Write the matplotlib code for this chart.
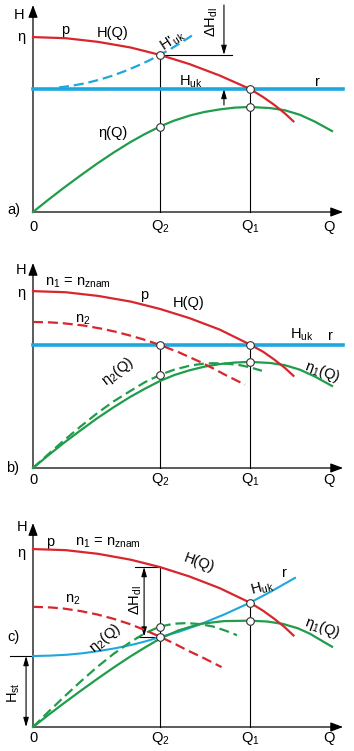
import matplotlib.pyplot as plt

plt.rcParams["font.family"] = ["Liberation Sans Narrow", "Liberation Sans", "DejaVu Sans"]
plt.rcParams["font.size"] = 10.5
plt.rcParams["mathtext.default"] = "regular"

RED = "#d8262d"
BLUE = "#1ea7df"
GREEN = "#1f9d4a"

# ---- panel a) ----
q_pump_a = [0, 15, 30, 45, 58.5, 72, 86, 100, 106, 111, 116, 120]
h_pump_a = [80.6, 80.1, 78.4, 75.8, 72.4, 68.2, 62.9, 56.7, 53.0, 49.5, 45.5, 41.8]
q_huk2_a = [12, 18, 24, 30, 36, 42, 48, 53, 58.5, 63, 68, 73.7]
h_huk2_a = [57.4, 58.2, 59.3, 60.8, 62.6, 64.8, 67.3, 69.6, 72.4, 74.9, 77.9, 81.6]
h_huk_a = 56.7
q_eta_a = [0, 7, 14, 22, 29.4, 37, 44.7, 51.5, 58.5, 65, 72.4, 79, 86.2, 93, 100,
           109.2, 116, 123, 130, 137.8]
h_eta_a = [0, 5.6, 11.0, 16.9, 22.2, 27.3, 32.1, 35.9, 39.4, 42.1, 44.5, 46.1, 47.3,
           48.1, 48.4, 47.9, 46.9, 44.8, 41.6, 37.3]

# ---- panel b) ----
q_pump_b = [0, 15, 30, 45, 58.5, 72, 86, 100, 106, 111, 116, 120]
h_pump_b = [81.5, 81.0, 79.3, 76.7, 73.3, 69.1, 63.8, 56.9, 53.6, 50.1, 46.2, 42.5]
q_n2_b = [0, 8, 14, 23, 31, 38, 46, 52, 58.5, 67, 77, 83, 89.4, 97.7]
h_n2_b = [67.3, 67.1, 66.7, 65.7, 64.3, 62.8, 60.7, 58.9, 56.7, 53.4, 48.9, 45.9, 42.5, 38.4]
h_huk_b = 56.7
q_eta1_b = [0, 7, 14, 22, 29.4, 37, 44.7, 51.5, 58.5, 65, 72.4, 79, 86.2, 93, 100,
            109.2, 116, 123, 130, 137.8]
h_eta1_b = [0, 5.8, 11.4, 17.4, 22.8, 27.9, 32.7, 36.5, 40.1, 42.8, 45.1, 46.7, 47.9,
            48.6, 48.9, 48.4, 47.4, 45.3, 42.1, 37.8]
q_eta2_b = [0, 7, 14, 22, 29.4, 37, 44.7, 51.5, 58.5, 65, 72.4, 78, 83, 89, 95.4, 100, 105.5]
h_eta2_b = [0, 6.3, 12.5, 19.2, 25.1, 30.6, 35.4, 39.5, 42.9, 45.3, 47.2, 48.0, 48.3,
            48.1, 47.4, 46.4, 44.8]

# ---- panel c) ----
q_pump_c = [0, 15, 30, 45, 58.5, 72, 86, 100, 106, 111, 116, 120]
h_pump_c = [82.0, 81.5, 79.8, 77.1, 73.7, 69.4, 64.0, 57.3, 53.6, 50.0, 46.0, 42.2]
q_n2_c = [0, 8, 14, 22, 29.4, 37, 44.7, 51.5, 58.5, 65, 71, 79, 86.9]
h_n2_c = [55.4, 55.1, 54.6, 53.4, 51.9, 49.9, 47.4, 44.7, 41.6, 38.5, 35.4, 31.6, 27.6]
q_r_c = [0, 8, 15.7, 23, 30.9, 38, 46.1, 52, 58.5, 67, 77, 88, 100, 110, 120.7]
h_r_c = [32.7, 32.9, 33.3, 34.0, 35.1, 36.3, 38.0, 39.5, 41.5, 43.8, 47.3, 51.8, 57.3,
         62.6, 68.7]
q_eta1_c = [0, 7, 14, 22, 29.4, 37, 44.7, 51.5, 58.5, 67, 77, 88, 100, 108, 115.2,
            122, 127.6, 133, 137.8]
h_eta1_c = [0, 5.5, 10.8, 16.7, 22.0, 27.3, 32.4, 36.6, 40.7, 44.5, 47.5, 48.8, 49.0,
            48.6, 47.5, 45.5, 43.0, 39.8, 37.0]
q_eta2_c = [0, 7, 14, 22, 29.4, 37, 44.7, 51.5, 58.5, 65, 71, 77, 83, 89, 94]
h_eta2_c = [0, 6.9, 13.6, 21.0, 27.5, 33.6, 39.0, 43.2, 46.3, 47.6, 47.9, 47.4, 46.3,
            44.3, 42.3]
h_st = 32.7

Q1, Q2 = 100, 58.5

# figure in pixels: 354 x 751, 2.17 px per unit on both axes
W, HT, S = 354, 751, 2.17
X0 = 33
fig = plt.figure(figsize=(W / 100, HT / 100), dpi=100)


def panel(top, bottom, y0):
    ax = fig.add_axes([0, 1 - bottom / HT, 1, (bottom - top) / HT])
    ax.set_xlim(-X0 / S, (W - X0) / S)
    ax.set_ylim((y0 - bottom) / S, (y0 - top) / S)
    ax.axis("off")
    return ax


def axes_arrows(ax, htip):
    ap = dict(arrowstyle="-|>,head_length=0.75,head_width=0.28", lw=0.9,
              color="black", shrinkA=0, shrinkB=0, mutation_scale=10)
    ax.annotate("", xy=(142.9, 0), xytext=(0, 0), arrowprops=ap)
    ax.annotate("", xy=(0, htip), xytext=(0, 0), arrowprops=ap)


def small_arrow(ax, x, y_from, y_to, style="-|>"):
    ax.annotate("", xy=(x, y_to), xytext=(x, y_from),
                arrowprops=dict(arrowstyle=style + ",head_length=0.55,head_width=0.16",
                                lw=0.8, color="black", shrinkA=0, shrinkB=0,
                                mutation_scale=10))


def bottom_labels(ax, y):
    ax.text(0, y, "0", ha="center", va="center")
    ax.text(Q2, y, "Q$_2$", ha="center", va="center")
    ax.text(Q1, y, "Q$_1$", ha="center", va="center")
    ax.text(136.4, y, "Q", ha="center", va="center")


def marks(ax, pts):
    ax.plot([p[0] for p in pts], [p[1] for p in pts], "o", ms=5.5, mfc="white",
            mec="#333333", mew=0.8, zorder=10, ls="none")


DASH = (0, (4.5, 2.2))

# ---------- a) ----------
ax = panel(0, 250, 212)
axes_arrows(ax, 95.4)
ax.plot([Q2, Q2], [0, 72.4], color="black", lw=0.8)
ax.plot([Q1, Q1], [0, h_huk_a], color="black", lw=0.8)
ax.plot([Q2, 91.7], [72.4, 72.4], color="black", lw=0.8)
small_arrow(ax, 88.0, 95.4, 72.4)
small_arrow(ax, 88.0, 49.3, h_huk_a)
ax.axhline(h_huk_a, xmin=X0 / W, xmax=343 / W, color=BLUE, lw=2.6, zorder=3)
ax.plot(q_huk2_a, h_huk2_a, color=BLUE, lw=1.6, ls=DASH, zorder=4)
ax.plot(q_eta_a, h_eta_a, color=GREEN, lw=1.6, zorder=4)
ax.plot(q_pump_a, h_pump_a, color=RED, lw=1.6, zorder=5)
marks(ax, [(Q2, 72.4), (Q1, h_huk_a), (Q1, 48.4), (Q2, 39.4)])
ax.text(-6.5, 90.8, "H", ha="center", va="center")
ax.text(-5.3, 80.6, "η", ha="center", va="center")
ax.text(-8.8, 0.9, "a)", ha="center", va="center")
bottom_labels(ax, -6.7)
ax.text(14.7, 83.9, "p", ha="center", va="center")
ax.text(36.9, 82.5, "H(Q)", ha="center", va="center")
ax.text(64.5, 78.8, "H'$_{uk}$", ha="center", va="center", rotation=33)
ax.text(72.8, 59.9, "H$_{uk}$", ha="center", va="center")
ax.text(131.3, 59.9, "r", ha="center", va="center")
ax.text(36.9, 36.4, "η(Q)", ha="center", va="center")
ax.text(82.5, 87.6, "ΔH$_{dl}$", ha="center", va="center", rotation=90)

# ---------- b) ----------
ax = panel(250, 500, 468)
axes_arrows(ax, 94.5)
ax.plot([Q2, Q2], [0, h_huk_b], color="black", lw=0.8)
ax.plot([Q1, Q1], [0, h_huk_b], color="black", lw=0.8)
ax.axhline(h_huk_b, xmin=X0 / W, xmax=343 / W, color=BLUE, lw=2.6, zorder=3)
ax.plot(q_eta1_b, h_eta1_b, color=GREEN, lw=1.6, zorder=4)
ax.plot(q_eta2_b, h_eta2_b, color=GREEN, lw=1.6, ls=DASH, zorder=4)
ax.plot(q_n2_b, h_n2_b, color=RED, lw=1.6, ls=DASH, zorder=5)
ax.plot(q_pump_b, h_pump_b, color=RED, lw=1.6, zorder=5)
marks(ax, [(Q2, h_huk_b), (Q1, h_huk_b), (Q2, 42.9), (Q1, 48.9)])
ax.text(-5.5, 91.2, "H", ha="center", va="center")
ax.text(-5.3, 80.6, "η", ha="center", va="center")
ax.text(-9.2, 0, "b)", ha="center", va="center")
bottom_labels(ax, -5.5)
ax.text(5.5, 85.3, "n$_1$ = n$_{znam}$", ha="left", va="center")
ax.text(51.2, 79.7, "p", ha="center", va="center")
ax.text(71.9, 76.0, "H(Q)", ha="center", va="center")
ax.text(23.0, 68.2, "n$_2$", ha="center", va="center")
ax.text(124.0, 61.3, "H$_{uk}$", ha="center", va="center")
ax.text(136.9, 60.8, "r", ha="center", va="center")
ax.text(39.2, 44.6, "η$_2$(Q)", ha="center", va="center", rotation=38)
ax.text(133.2, 44.2, "η$_1$(Q)", ha="center", va="center", rotation=-20)

# ---------- c) ----------
ax = panel(500, 751, 727)
axes_arrows(ax, 94.0)
ax.plot([Q2, Q2], [0, 73.7], color="black", lw=0.8)
ax.plot([Q1, Q1], [0, 57.3], color="black", lw=0.8)
ax.plot([47.0, Q2], [73.7, 73.7], color="black", lw=0.8)
ax.plot([47.5, Q2], [41.7, 41.7], color="black", lw=0.8)
small_arrow(ax, 51.2, 41.7, 73.7, style="<|-|>")
ax.plot([-10.6, 0], [h_st, h_st], color="black", lw=0.8)
small_arrow(ax, -3.2, 0, h_st, style="<|-|>")
ax.plot(q_r_c, h_r_c, color=BLUE, lw=1.5, zorder=3)
ax.plot(q_eta1_c, h_eta1_c, color=GREEN, lw=1.6, zorder=4)
ax.plot(q_eta2_c, h_eta2_c, color=GREEN, lw=1.6, ls=DASH, zorder=4)
ax.plot(q_n2_c, h_n2_c, color=RED, lw=1.6, ls=DASH, zorder=5)
ax.plot(q_pump_c, h_pump_c, color=RED, lw=1.6, zorder=5)
marks(ax, [(Q2, 46.3), (Q2, 41.5), (Q1, 57.3), (Q1, 49.0)])
ax.text(-5.1, 92.2, "H", ha="center", va="center")
ax.text(-5.3, 80.2, "η", ha="center", va="center")
ax.text(-9.2, 41.5, "c)", ha="center", va="center")
bottom_labels(ax, -5.1)
ax.text(7.8, 85.3, "p", ha="center", va="center")
ax.text(19.4, 84.8, "n$_1$ = n$_{znam}$", ha="left", va="center")
ax.text(76.5, 75.6, "H(Q)", ha="center", va="center", rotation=-20)
ax.text(105.5, 64.1, "H$_{uk}$", ha="center", va="center", rotation=15)
ax.text(116.1, 71.0, "r", ha="center", va="center")
ax.text(18.4, 58.5, "n$_2$", ha="center", va="center")
ax.text(47.2, 58.5, "ΔH$_{dl}$", ha="center", va="center", rotation=90)
ax.text(33.2, 41.0, "η$_2$(Q)", ha="center", va="center", rotation=40)
ax.text(133.2, 45.6, "η$_1$(Q)", ha="center", va="center", rotation=-20)
ax.text(-8.8, 15.7, "H$_{st}$", ha="center", va="center", rotation=90)

fig.savefig("out.png", dpi=100)
